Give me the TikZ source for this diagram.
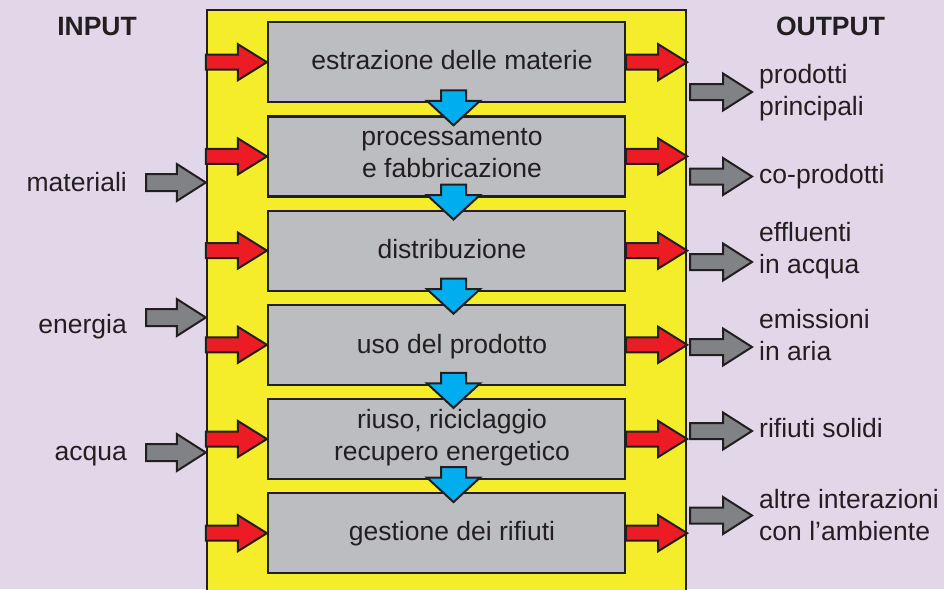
\documentclass[tikz,border=0pt]{standalone}
\usepackage{fontspec}
\setmainfont{Liberation Sans}
\usetikzlibrary{calc}
\definecolor{bg}{HTML}{E1D7E9}
\definecolor{yel}{HTML}{F5EC2A}
\definecolor{boxgray}{HTML}{BCBDC1}
\definecolor{redc}{HTML}{ED1C24}
\definecolor{bluec}{HTML}{00AEEF}
\definecolor{grayc}{HTML}{808285}
\definecolor{ink}{HTML}{231F20}
\newcommand\hblock[6]{%
  \draw[#1] let \p1=#2, \p2=#3 in
    (\x1,{\y2+#4}) -- ({\x2-#6},{\y2+#4}) -- ({\x2-#6},{\y2+#5}) -- (\x2,\y2)
    -- ({\x2-#6},{\y2-#5}) -- ({\x2-#6},{\y2-#4}) -- (\x1,{\y2-#4}) -- cycle;}
\newcommand\vblock[2]{%
  \draw[bluearr] let \p1=#1, \p2=#2 in
    ({\x1+7pt-12.5pt},{(\y1+\y2)/2+19pt}) -- ({\x1+7pt-12.5pt},{(\y1+\y2)/2+8.5pt})
    -- ({\x1+7pt-26.5pt},{(\y1+\y2)/2+8.5pt}) -- ({\x1+7pt},{(\y1+\y2)/2-16pt})
    -- ({\x1+7pt+26.5pt},{(\y1+\y2)/2+8.5pt}) -- ({\x1+7pt+12.5pt},{(\y1+\y2)/2+8.5pt})
    -- ({\x1+7pt+12.5pt},{(\y1+\y2)/2+19pt}) -- cycle;}
\begin{document}
\begin{tikzpicture}[x=1pt,y=-1pt,
  yellowbox/.style={draw=ink, line width=2.4pt, fill=yel, inner sep=0},
  procbox/.style={draw=ink, line width=2.2pt, fill=boxgray, minimum width=357pt, minimum height=80pt, inner sep=0},
  boxtext/.style={font=\fontsize{26.5}{32}\selectfont, text=ink, align=center, inner sep=0},
  lbl/.style={font=\fontsize{26.5}{32}\selectfont, text=ink, inner sep=0},
  head/.style={font=\fontsize{26.5}{32}\selectfont\bfseries, text=ink, inner sep=0},
  redarr/.style={draw=ink, line width=2pt, fill=redc, line join=miter},
  bluearr/.style={draw=ink, line width=2pt, fill=bluec, line join=miter},
  grayarr/.style={draw=ink, line width=2pt, fill=grayc, line join=miter}]
\fill[bg] (0,0) rectangle (944,589);
\useasboundingbox (0,0) rectangle (944,589);
% container
\node (Y) [yellowbox, minimum width=479pt, minimum height=640pt, anchor=north] at (446.5,9) {};
% process boxes
\node (b1) [procbox] at (446.5,62.2) {};
\node (b2) [procbox] at (446.5,156.4) {};
\node (b3) [procbox] at (446.5,250.6) {};
\node (b4) [procbox] at (446.5,344.8) {};
\node (b5) [procbox] at (446.5,439) {};
\node (b6) [procbox] at (446.5,533.2) {};
\node (t1) [boxtext] at ($(b1.center)+(5.5,-2.5)$) {estrazione delle materie};
\node (t2) [boxtext] at ($(b2.center)+(5.5,-3)$) {processamento\\e fabbricazione};
\node (t3) [boxtext] at ($(b3.center)+(5.5,-2)$) {distribuzione};
\node (t4) [boxtext] at ($(b4.center)+(5.5,1.5)$) {uso del prodotto};
\node (t5) [boxtext] at ($(b5.center)+(5.5,-1.5)$) {riuso, riciclaggio\\recupero energetico};
\node (t6) [boxtext] at ($(b6.center)+(5.5,0.5)$) {gestione dei rifiuti};
% blue flow arrows
\vblock{(b1.south)}{(b2.north)}
\vblock{(b2.south)}{(b3.north)}
\vblock{(b3.south)}{(b4.north)}
\vblock{(b4.south)}{(b5.north)}
\vblock{(b5.south)}{(b6.north)}
% red arrows
\foreach \b in {b1,b2,b3,b4,b5,b6}{
  \hblock{redarr}{(Y.west |- \b.center)}{(\b.west)}{7.5pt}{18pt}{29pt}
  \hblock{redarr}{(\b.east)}{(Y.east |- \b.center)}{7.5pt}{18pt}{29pt}
}
% headings
\node (hin) [head] at (97,26.5) {INPUT};
\node (hout) [head] at (830.5,26.5) {OUTPUT};
% inputs
\node (in1) [lbl, anchor=base east] at (127,191) {materiali};
\node (in2) [lbl, anchor=base east] at (127,333) {energia};
\node (in3) [lbl, anchor=base east] at (127,460) {acqua};
\coordinate (a1) at (146,182.5);
\coordinate (a2) at (146,317.5);
\coordinate (a3) at (146,452.5);
\hblock{grayarr}{(a1)}{(Y.west |- a1)}{8.5pt}{18.5pt}{29pt}
\hblock{grayarr}{(a2)}{(Y.west |- a2)}{8.5pt}{18.5pt}{29pt}
\hblock{grayarr}{(a3)}{(Y.west |- a3)}{8.5pt}{18.5pt}{29pt}
% outputs
\coordinate (o1) at (690,92);
\coordinate (o2) at (690,176.5);
\coordinate (o3) at (690,262);
\coordinate (o4) at (690,347);
\coordinate (o5) at (690,431);
\coordinate (o6) at (690,515.5);
\foreach \o in {o1,o2,o3,o4,o5,o6}{
  \hblock{grayarr}{(\o)}{($(\o)+(62,0)$)}{8pt}{18.5pt}{29pt}
}
\node (out1) [lbl, anchor=base west, align=left] at (759,115) {prodotti\\principali};
\node (out2) [lbl, anchor=base west] at (759,183) {co-prodotti};
\node (out3) [lbl, anchor=base west, align=left] at (759,273) {effluenti\\in acqua};
\node (out4) [lbl, anchor=base west, align=left] at (759,360) {emissioni\\in aria};
\node (out5) [lbl, anchor=base west] at (759,437) {rifiuti solidi};
\node (out6) [lbl, anchor=base west, align=left] at (759,540) {altre interazioni\\con l’ambiente};
\end{tikzpicture}
\end{document}
